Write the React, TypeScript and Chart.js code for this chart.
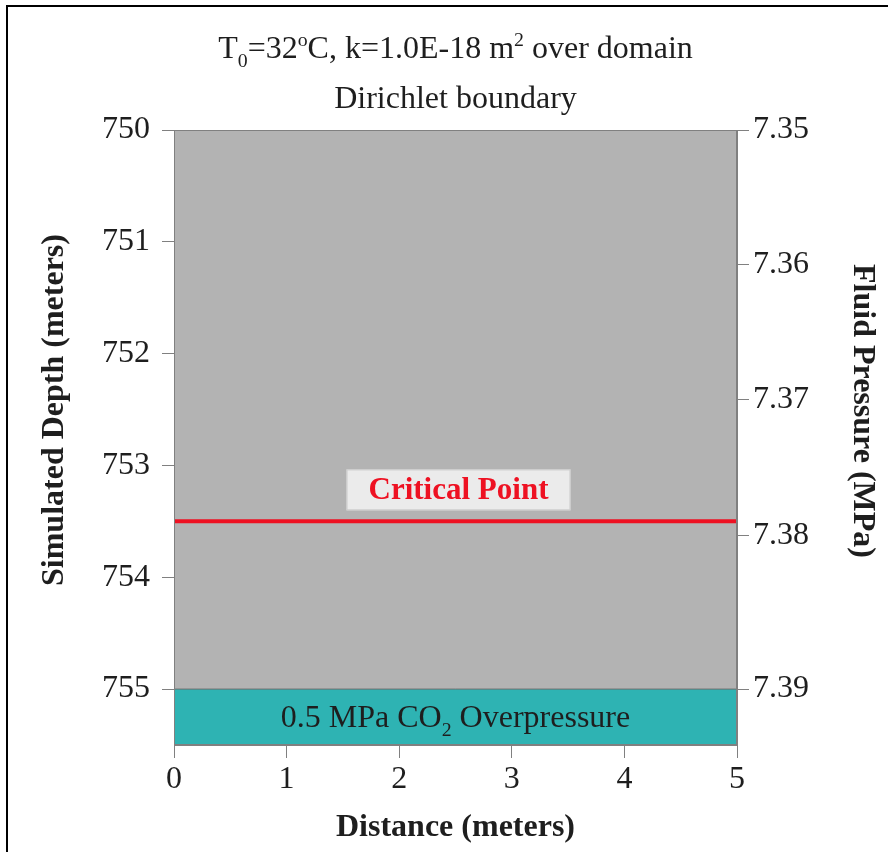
import React, { useEffect, useRef } from 'react';
import { Chart, registerables } from 'chart.js';

Chart.register(...registerables);

// ---- data ----
const distanceTicks = [0, 1, 2, 3, 4, 5];
const depthTicks = [750, 751, 752, 753, 754, 755];
const pressureTickLabels = ['7.35', '7.36', '7.37', '7.38', '7.39'];
const pressureTickDepths = [750, 751.2, 752.41, 753.63, 755];
const domainX = [0, 5];
const depthRange = [750, 755.5];
const criticalDepth = 753.5;
const boundaryDepth = 755;
const criticalLabel = 'Critical Point';
const titleLine1: [string, string][] = [
  ['T', ''], ['0', 'sub'], ['=32', ''], ['o', 'sup'], ['C, k=1.0E-18 m', ''], ['2', 'sup'], [' over domain', ''],
];
const titleLine2: [string, string][] = [['Dirichlet boundary', '']];
const boundaryLabel: [string, string][] = [['0.5 MPa CO', ''], ['2', 'sub'], [' Overpressure', '']];
const xTitle = 'Distance (meters)';
const yTitle = 'Simulated Depth (meters)';
const y2Title = 'Fluid Pressure (MPa)';

const FAMILY = "'Liberation Serif', 'Times New Roman', serif";
const TEXT = '#1e1e1e';
const AXIS = '#808080';

function drawRich(ctx: CanvasRenderingContext2D, segs: [string, string][], cx: number, baseline: number, size: number, weight: string, color: string) {
  let total = 0;
  const parts = segs.map(([t, k]) => {
    const fs = k ? size * 0.62 : size;
    ctx.font = `${weight} ${fs}px ${FAMILY}`;
    const w = ctx.measureText(t).width;
    total += w;
    return { t, k, fs, w };
  });
  let x = cx - total / 2;
  ctx.textAlign = 'left';
  ctx.textBaseline = 'alphabetic';
  ctx.fillStyle = color;
  for (const p of parts) {
    ctx.font = `${weight} ${p.fs}px ${FAMILY}`;
    const dy = p.k === 'sub' ? size * 0.27 : p.k === 'sup' ? -size * 0.36 : 0;
    ctx.fillText(p.t, x, baseline + dy);
    x += p.w;
  }
}

const decorPlugin = {
  id: 'decor',
  afterDatasetsDraw(chart: any) {
    const { ctx, chartArea, scales } = chart;
    const xs = scales.x;
    const ys = scales.y;
    ctx.save();
    // plot outline
    ctx.strokeStyle = AXIS;
    ctx.lineWidth = 1;
    ctx.strokeRect(chartArea.left + 0.5, chartArea.top + 0.5, chartArea.right - chartArea.left - 1, chartArea.bottom - chartArea.top - 1);

    const cx = (chartArea.left + chartArea.right) / 2;

    // critical point label box
    const ly = ys.getPixelForValue(criticalDepth);
    const bx = xs.getPixelForValue(2.5) + 3;
    const bw = 224, bh = 41;
    ctx.fillStyle = '#ebebeb';
    ctx.fillRect(bx - bw / 2, ly - 11 - bh, bw, bh);
    ctx.strokeStyle = '#c9c9c9';
    ctx.strokeRect(bx - bw / 2 + 0.5, ly - 11 - bh + 0.5, bw - 1, bh - 1);
    ctx.fillStyle = '#ee1122';
    ctx.font = `bold 31px ${FAMILY}`;
    ctx.textAlign = 'center';
    ctx.textBaseline = 'middle';
    ctx.fillText(criticalLabel, bx, ly - 11 - bh / 2 + 1);

    // boundary label
    const by = (ys.getPixelForValue(boundaryDepth) + ys.getPixelForValue(depthRange[1])) / 2;
    drawRich(ctx, boundaryLabel, cx, by + 10, 32, 'normal', TEXT);

    // titles
    drawRich(ctx, titleLine1, cx, 58, 32, 'normal', TEXT);
    drawRich(ctx, titleLine2, cx, 108, 32, 'normal', TEXT);

    ctx.fillStyle = TEXT;
    ctx.font = `bold 32px ${FAMILY}`;
    ctx.textAlign = 'center';
    ctx.textBaseline = 'middle';
    ctx.fillText(xTitle, cx, 828);

    ctx.save();
    ctx.translate(55, 410);
    ctx.rotate(-Math.PI / 2);
    ctx.fillText(yTitle, 0, 0);
    ctx.restore();

    ctx.save();
    ctx.translate(862, 411);
    ctx.rotate(Math.PI / 2);
    ctx.fillText(y2Title, 0, 0);
    ctx.restore();

    // frame
    ctx.fillStyle = '#000';
    ctx.fillRect(6, 5, 882, 2);
    ctx.fillRect(6, 5, 2, 847);
    ctx.restore();
  },
};

export default function App() {
  const ref = useRef<HTMLCanvasElement | null>(null);
  useEffect(() => {
    const canvas = ref.current;
    if (!canvas) return;
    const font = { family: FAMILY, size: 32 };
    const chart = new Chart(canvas, {
      type: 'line',
      data: {
        datasets: [
          {
            label: 'Critical Point',
            data: domainX.map((x) => ({ x, y: criticalDepth })),
            borderColor: '#ee1122',
            borderWidth: 4,
            pointRadius: 0,
            fill: false,
          },
          {
            label: 'CO2 Overpressure',
            data: domainX.map((x) => ({ x, y: boundaryDepth })),
            borderColor: '#6e6e6e',
            borderWidth: 1,
            pointRadius: 0,
            backgroundColor: '#2eb3b3',
            fill: { value: depthRange[1] },
          },
          {
            label: 'Domain',
            data: domainX.map((x) => ({ x, y: boundaryDepth })),
            borderColor: 'rgba(0,0,0,0)',
            borderWidth: 0,
            pointRadius: 0,
            backgroundColor: '#b3b3b3',
            fill: { value: depthRange[0] },
          },
        ],
      } as any,
      options: {
        responsive: false,
        animation: false,
        layout: { padding: { top: 130, left: 0, right: 0, bottom: 0 } },
        plugins: { legend: { display: false }, tooltip: { enabled: false }, title: { display: false } },
        scales: {
          x: {
            type: 'linear',
            position: 'bottom',
            min: domainX[0],
            max: domainX[1],
            afterBuildTicks: (s: any) => { s.ticks = distanceTicks.map((v) => ({ value: v })); },
            afterFit: (s: any) => { s.height = 107; },
            grid: { drawOnChartArea: false, tickLength: 13, color: AXIS },
            border: { color: AXIS },
            ticks: { font, color: TEXT, padding: 2, maxRotation: 0, autoSkip: false },
          },
          y: {
            type: 'linear',
            position: 'left',
            reverse: true,
            min: depthRange[0],
            max: depthRange[1],
            afterBuildTicks: (s: any) => { s.ticks = depthTicks.map((v) => ({ value: v })); },
            afterFit: (s: any) => { s.width = 174; },
            grid: { drawOnChartArea: false, tickLength: 12, color: AXIS },
            border: { color: AXIS },
            ticks: { font, color: TEXT, padding: 12, autoSkip: false },
          },
          y2: {
            type: 'linear',
            position: 'right',
            reverse: true,
            min: depthRange[0],
            max: depthRange[1],
            afterBuildTicks: (s: any) => { s.ticks = pressureTickDepths.map((v) => ({ value: v })); },
            afterFit: (s: any) => { s.width = 151; },
            grid: { drawOnChartArea: false, tickLength: 12, color: AXIS },
            border: { color: AXIS },
            ticks: { font, color: TEXT, padding: 4, autoSkip: false, callback: (_v: any, i: number) => pressureTickLabels[i] },
          },
        },
      } as any,
      plugins: [decorPlugin],
    });
    return () => chart.destroy();
  }, []);
  return (
    <div style={{ position: 'absolute', left: 0, top: 0, width: 888, height: 852, background: '#fff' }}>
      <canvas ref={ref} width={888} height={852} style={{ display: 'block', width: 888, height: 852 }} />
    </div>
  );
}
